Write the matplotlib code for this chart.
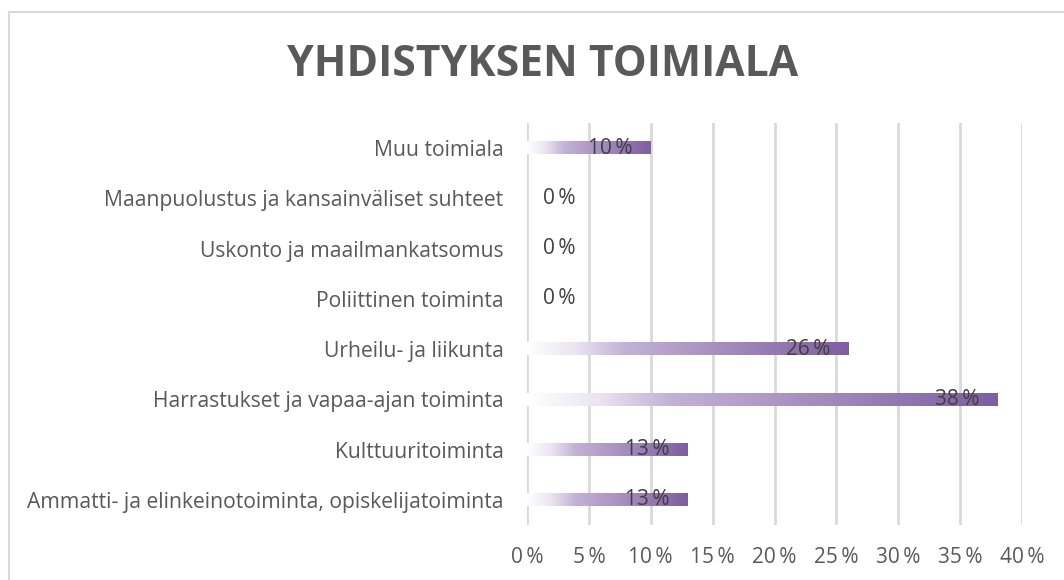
import matplotlib.pyplot as plt
import numpy as np
from matplotlib.colors import LinearSegmentedColormap
from matplotlib.patches import Rectangle
from matplotlib.transforms import offset_copy

categories = [
    "Ammatti- ja elinkeinotoiminta, opiskelijatoiminta",
    "Kulttuuritoiminta",
    "Harrastukset ja vapaa-ajan toiminta",
    "Urheilu- ja liikunta",
    "Poliittinen toiminta",
    "Uskonto ja maailmankatsomus",
    "Maanpuolustus ja kansainväliset suhteet",
    "Muu toimiala",
]
values = [13, 13, 38, 26, 0, 0, 0, 10]
xticks = [0, 5, 10, 15, 20, 25, 30, 35, 40]

grey = "#595959"
cmap = LinearSegmentedColormap.from_list(
    "grad", [(0, "#ffffff"), (0.15, "#ebe4f1"), (0.3, "#c3b2d6"), (1, "#7e5e9f")])

plt.rcParams['font.family'] = ['Open Sans', 'DejaVu Sans']
fig = plt.figure(figsize=(10.64, 5.8), dpi=100)
ax = fig.add_axes([527 / 1064, 1 - 525 / 580, (1022 - 527) / 1064, (525 - 123) / 580])

# chart border
fig.patches.append(Rectangle((9 / 1064, -0.1), 1.2, 1 - 12 / 580 + 0.1,
                             transform=fig.transFigure, fill=False,
                             edgecolor="#d9d9d9", linewidth=1.5))

pct = "\u2009%"
bar_h = 0.25
grad = np.linspace(0, 1, 256).reshape(1, -1)
for i, v in enumerate(values):
    if v > 0:
        ax.imshow(grad, extent=(0, v, i - bar_h / 2, i + bar_h / 2),
                  aspect='auto', cmap=cmap, zorder=3, interpolation='bicubic')
        tr = offset_copy(ax.transData, fig=fig, x=-18, y=0, units='dots')
        ax.text(v, i, f"{v}{pct}", transform=tr, ha='right', va='center',
                fontsize=15, color="#404040", zorder=4)
    else:
        tr = offset_copy(ax.transData, fig=fig, x=16, y=0, units='dots')
        ax.text(0, i, f"{v}{pct}", transform=tr, ha='left', va='center',
                fontsize=15, color="#404040", zorder=4)

ax.set_xlim(0, 40)
ax.set_ylim(-0.5, len(categories) - 0.5)
ax.set_yticks(range(len(categories)))
ax.set_yticklabels(categories, fontsize=15.2, color=grey)
ax.set_xticks(xticks)
ax.set_xticklabels([f"{t}{pct}" for t in xticks], fontsize=15, color=grey)
ax.tick_params(length=0, axis='y', pad=17)
ax.tick_params(length=0, axis='x', pad=16)
ax.grid(axis='x', color="#d9d9d9", linewidth=2, zorder=0)
ax.set_axisbelow(True)
for s in ax.spines.values():
    s.set_visible(False)

fig.text(543 / 1064, 1 - 64 / 580, "YHDISTYKSEN TOIMIALA", ha='center', va='center',
         fontsize=30.7, fontweight='bold', color=grey)

fig.savefig("out.png", dpi=100)
